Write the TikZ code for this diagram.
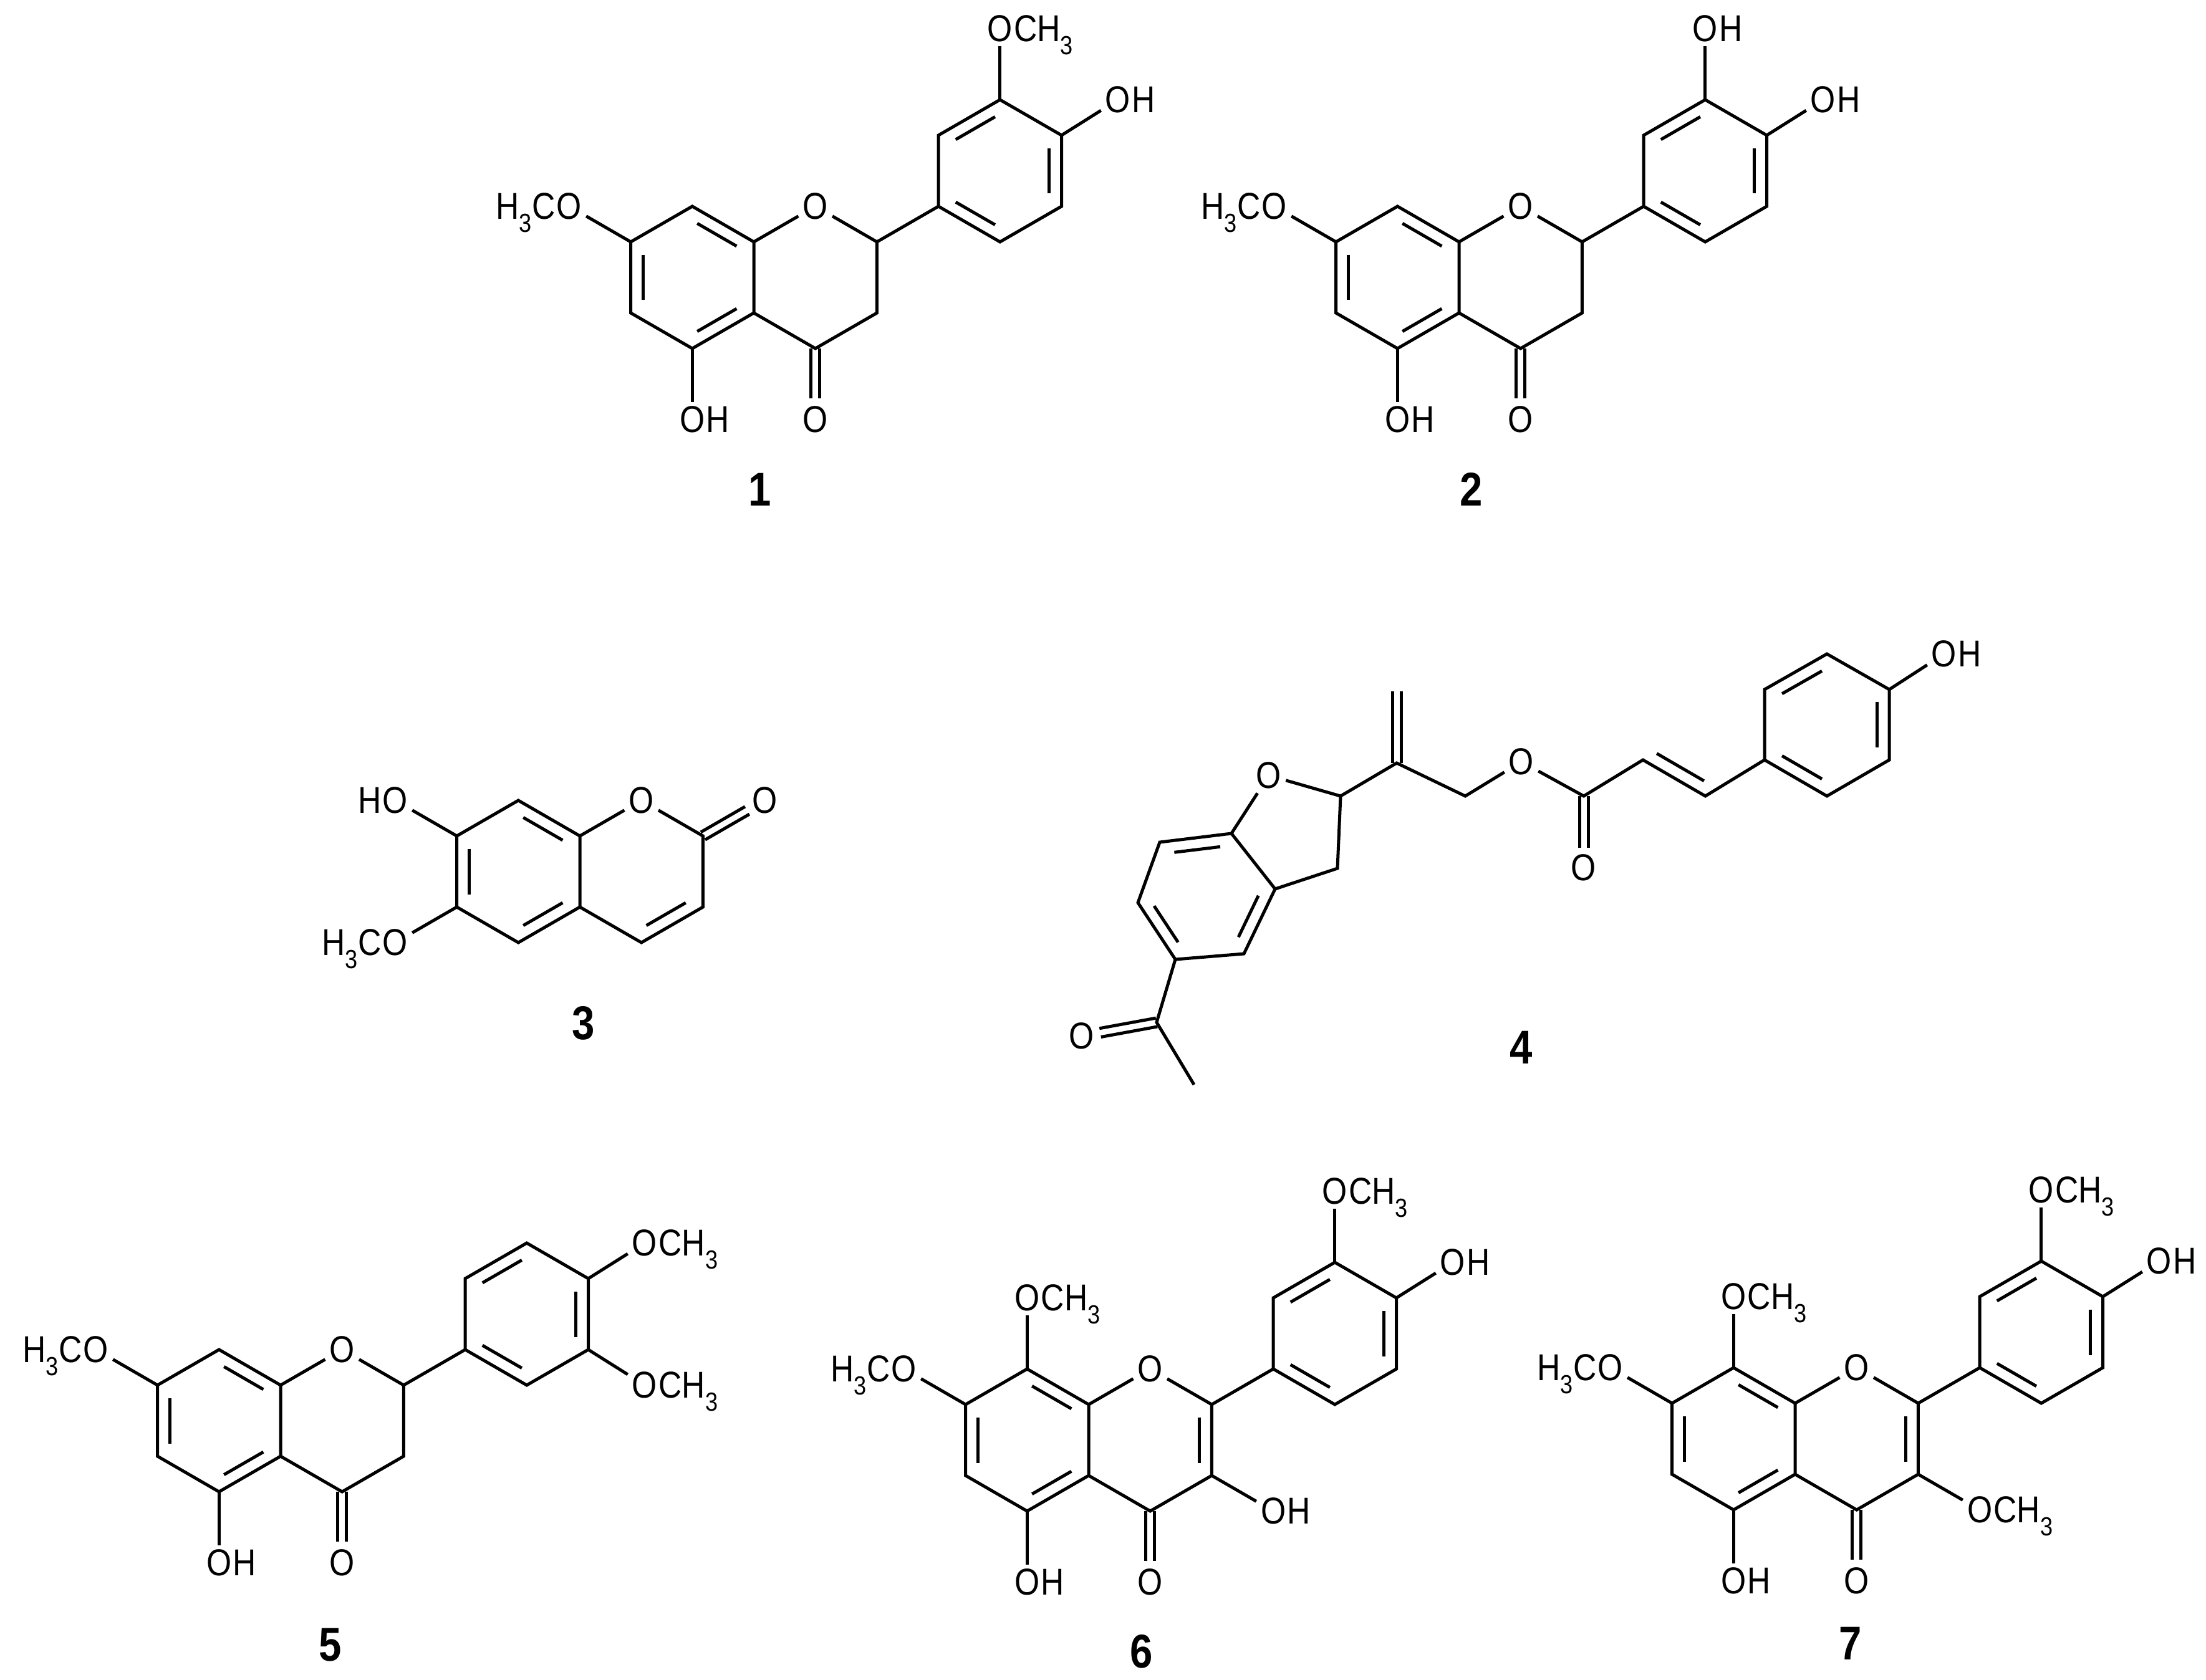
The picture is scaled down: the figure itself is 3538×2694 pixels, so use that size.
\documentclass[tikz,border=0pt]{standalone}
\usepackage{fontspec}
\setmainfont{Liberation Sans}[FakeStretch=0.86]
\usetikzlibrary{calc}
\tikzset{bond/.style={line width=5pt},
 atom/.style={font=\fontsize{60}{66}\selectfont, inner sep=7pt},
 sfx/.style={font=\fontsize{60}{66}\selectfont, inner sep=0pt},
 num/.style={font=\fontsize{76}{84}\selectfont\bfseries}}
\newcommand\dbin[3]{\path ($(#1)!0.2!(#3)$) coordinate (tmpA) ($(#2)!0.2!(#3)$) coordinate (tmpB);
 \draw[bond] ($(tmpA)!0.1!(tmpB)$) -- ($(tmpB)!0.1!(tmpA)$);}
\newcommand\dbex[4]{\draw[bond,shorten >=#4] ($(#1)!#3!90:(#2)$) -- ($(#2)!#3!-90:(#1)$);
 \draw[bond,shorten >=#4] ($(#1)!#3!-90:(#2)$) -- ($(#2)!#3!90:(#1)$);}
\newcommand\sufR[3]{\node[sfx,anchor=base west] (#1) at ([xshift=-5pt]#2.base east) {#3};}
\newcommand\sufL[3]{\node[sfx,anchor=base east] (#1) at ([xshift=5pt]#2.base west) {#3};}
\newcommand\ringAC[1]{%
\coordinate (#1a8a) at (0,0);
\coordinate (#1a4a) at (0,114);
\coordinate (#1a8) at (-98.7,-57);
\coordinate (#1a7) at (-197.4,0);
\coordinate (#1a6) at (-197.4,114);
\coordinate (#1a5) at (-98.7,171);
\coordinate (#1c2) at (197.4,0);
\coordinate (#1c3) at (197.4,114);
\coordinate (#1c4) at (98.7,171);
\coordinate (#1ca) at (-98.7,57);
\coordinate (#1cc) at (98.7,57);
\node[atom] (#1o1) at (98.7,-57) {O};
\node[atom] (#1o4) at (98.7,285) {O};
\node[atom] (#1o5) at (-98.7,285) {O};
\sufR{#1h5}{#1o5}{H}
\node[atom] (#1o7) at (-296.1,-57) {O};
\sufL{#1m7}{#1o7}{H\textsubscript{3}C}
\draw[bond] (#1a8a)--(#1a8)--(#1a7)--(#1a6)--(#1a5)--(#1a4a)--cycle;
\draw[bond] (#1a8a)--(#1o1)--(#1c2)--(#1c3)--(#1c4)--(#1a4a);
\draw[bond] (#1a5)--(#1o5);
\draw[bond] (#1a7)--(#1o7);
\dbex{#1c4}{#1o4}{7pt}{34pt}
\dbin{#1a8}{#1a8a}{#1ca}
\dbin{#1a7}{#1a6}{#1ca}
\dbin{#1a5}{#1a4a}{#1ca}}
\newcommand\ringB[1]{%
\coordinate (#1b1) at (296.1,-57);
\coordinate (#1b2) at (296.1,-171);
\coordinate (#1b3) at (394.8,-228);
\coordinate (#1b4) at (493.5,-171);
\coordinate (#1b5) at (493.5,-57);
\coordinate (#1b6) at (394.8,0);
\coordinate (#1cb) at (394.8,-114);
\draw[bond] (#1c2)--(#1b1);
\draw[bond] (#1b1)--(#1b2)--(#1b3)--(#1b4)--(#1b5)--(#1b6)--cycle;
\dbin{#1b2}{#1b3}{#1cb}
\dbin{#1b4}{#1b5}{#1cb}
\dbin{#1b6}{#1b1}{#1cb}}
\newcommand\guaiacyl[1]{%
\node[atom] (#1o3) at (394.8,-342) {O};
\sufR{#1m3}{#1o3}{CH\textsubscript{3}}
\node[atom] (#1oq) at (584,-228) {O};
\sufR{#1hq}{#1oq}{H}
\draw[bond] (#1b3)--(#1o3);
\draw[bond] (#1b4)--(#1oq);}
\newcommand\flavone[1]{%
\dbin{#1c2}{#1c3}{#1cc}
\node[atom] (#1o8) at (-98.7,-171) {O};
\sufR{#1m8}{#1o8}{CH\textsubscript{3}}
\draw[bond] (#1a8)--(#1o8);
\node[atom] (#1o3x) at (296.1,171) {O};
\draw[bond] (#1c3)--(#1o3x);}
\begin{document}
\begin{tikzpicture}[x=1pt,y=-1pt]
\useasboundingbox (0,0) rectangle (3538,2694);
% 1
\begin{scope}[shift={(1209,388)}]
\ringAC{p}\ringB{p}\guaiacyl{p}
\end{scope}
% 2
\begin{scope}[shift={(2340,388)}]
\ringAC{q}\ringB{q}
\node[atom] (qo3) at (394.8,-342) {O};
\sufR{qm3}{qo3}{H}
\node[atom] (qoq) at (584,-228) {O};
\sufR{qhq}{qoq}{H}
\draw[bond] (qb3)--(qo3);
\draw[bond] (qb4)--(qoq);
\end{scope}
% 5
\begin{scope}[shift={(450,2222)}]
\ringAC{r}\ringB{r}
\node[atom] (roq) at (584,-228) {O};
\sufR{rmq}{roq}{CH\textsubscript{3}}
\node[atom] (ro5) at (584,0) {O};
\sufR{rm5}{ro5}{CH\textsubscript{3}}
\draw[bond] (rb4)--(roq);
\draw[bond] (rb5)--(ro5);
\end{scope}
% 6
\begin{scope}[shift={(1746,2253)}]
\ringAC{s}\ringB{s}\guaiacyl{s}\flavone{s}
\sufR{sh3}{so3x}{H}
\end{scope}
% 7
\begin{scope}[shift={(2879,2251)}]
\ringAC{t}\ringB{t}\guaiacyl{t}\flavone{t}
\sufR{tm3x}{to3x}{CH\textsubscript{3}}
\end{scope}
% 3
\begin{scope}[shift={(930,1341)}]
\coordinate (ca8a) at (0,0);
\coordinate (ca4a) at (0,114);
\coordinate (ca8) at (-98.7,-57);
\coordinate (ca7) at (-197.4,0);
\coordinate (ca6) at (-197.4,114);
\coordinate (ca5) at (-98.7,171);
\coordinate (cc2) at (197.4,0);
\coordinate (cc3) at (197.4,114);
\coordinate (cc4) at (98.7,171);
\coordinate (cca) at (-98.7,57);
\coordinate (ccc) at (98.7,57);
\node[atom] (co1) at (98.7,-57) {O};
\node[atom] (co2) at (296.1,-57) {O};
\node[atom] (co7) at (-296.1,-57) {O};
\sufL{ch7}{co7}{H}
\node[atom] (co6) at (-296.1,171) {O};
\sufL{cm6}{co6}{H\textsubscript{3}C}
\draw[bond] (ca8a)--(ca8)--(ca7)--(ca6)--(ca5)--(ca4a)--cycle;
\draw[bond] (ca8a)--(co1)--(cc2)--(cc3)--(cc4)--(ca4a);
\draw[bond] (ca7)--(co7);
\draw[bond] (ca6)--(co6);
\dbex{cc2}{co2}{7pt}{32pt}
\dbin{ca8}{ca8a}{cca}
\dbin{ca7}{ca6}{cca}
\dbin{ca5}{ca4a}{cca}
\dbin{cc3}{cc4}{ccc}
\end{scope}
% 4
\coordinate (dC2) at (2150,1277);
\coordinate (dC3) at (2145,1393);
\coordinate (d3a) at (2045,1426);
\coordinate (d7a) at (1975,1337);
\coordinate (d7) at (1860,1351);
\coordinate (d6) at (1825,1448);
\coordinate (d5) at (1885,1539);
\coordinate (d4) at (1995,1530);
\coordinate (dcb) at (1931,1438);
\node[atom] (dO1) at (2035,1244) {O};
\draw[bond] (d7a)--(dO1)--(dC2)--(dC3)--(d3a);
\draw[bond] (d7a)--(d7)--(d6)--(d5)--(d4)--(d3a)--cycle;
\dbin{d7a}{d7}{dcb}
\dbin{d6}{d5}{dcb}
\dbin{d4}{d3a}{dcb}
\coordinate (dAc) at (1855,1640);
\node[atom] (dOa) at (1735,1662) {O};
\coordinate (dMe) at (1915,1740);
\draw[bond] (d5)--(dAc)--(dMe);
\dbex{dAc}{dOa}{7pt}{30pt}
\coordinate (dS1) at (2240,1224);
\coordinate (dCH2) at (2240,1109);
\coordinate (dS2) at (2350,1277);
\node[atom] (dOe) at (2440,1222) {O};
\coordinate (dS3) at (2540,1277);
\node[atom] (dOc) at (2540,1392) {O};
\coordinate (dS4) at (2635,1219);
\coordinate (dS5) at (2735,1277);
\coordinate (dR1) at (2830,1219);
\coordinate (dR2) at (2830,1106);
\coordinate (dR3) at (2930,1049);
\coordinate (dR4) at (3030,1106);
\coordinate (dR5) at (3030,1219);
\coordinate (dR6) at (2930,1277);
\coordinate (dcr) at (2930,1163);
\draw[bond] (dC2)--(dS1)--(dS2)--(dOe)--(dS3)--(dS4)--(dS5)--(dR1);
\dbex{dS1}{dCH2}{7pt}{0pt}
\dbex{dS3}{dOc}{7pt}{32pt}
\draw[bond,shorten <=14pt,shorten >=14pt] ($(dS4)!20pt!90:(dS5)$) -- ($(dS5)!20pt!-90:(dS4)$);
\draw[bond] (dR1)--(dR2)--(dR3)--(dR4)--(dR5)--(dR6)--cycle;
\dbin{dR2}{dR3}{dcr}
\dbin{dR4}{dR5}{dcr}
\dbin{dR6}{dR1}{dcr}
\node[atom] (dOh) at (3118,1049) {O};
\sufR{dHh}{dOh}{H}
\draw[bond] (dR4)--(dOh);
% labels
\node[num] (n1) at (1219,785) {1};
\node[num] (n2) at (2360,785) {2};
\node[num] (n3) at (936,1641) {3};
\node[num] (n4) at (2440,1680) {4};
\node[num] (n5) at (530,2639) {5};
\node[num] (n6) at (1831,2649) {6};
\node[num] (n7) at (2968,2636) {7};
\end{tikzpicture}
\end{document}
